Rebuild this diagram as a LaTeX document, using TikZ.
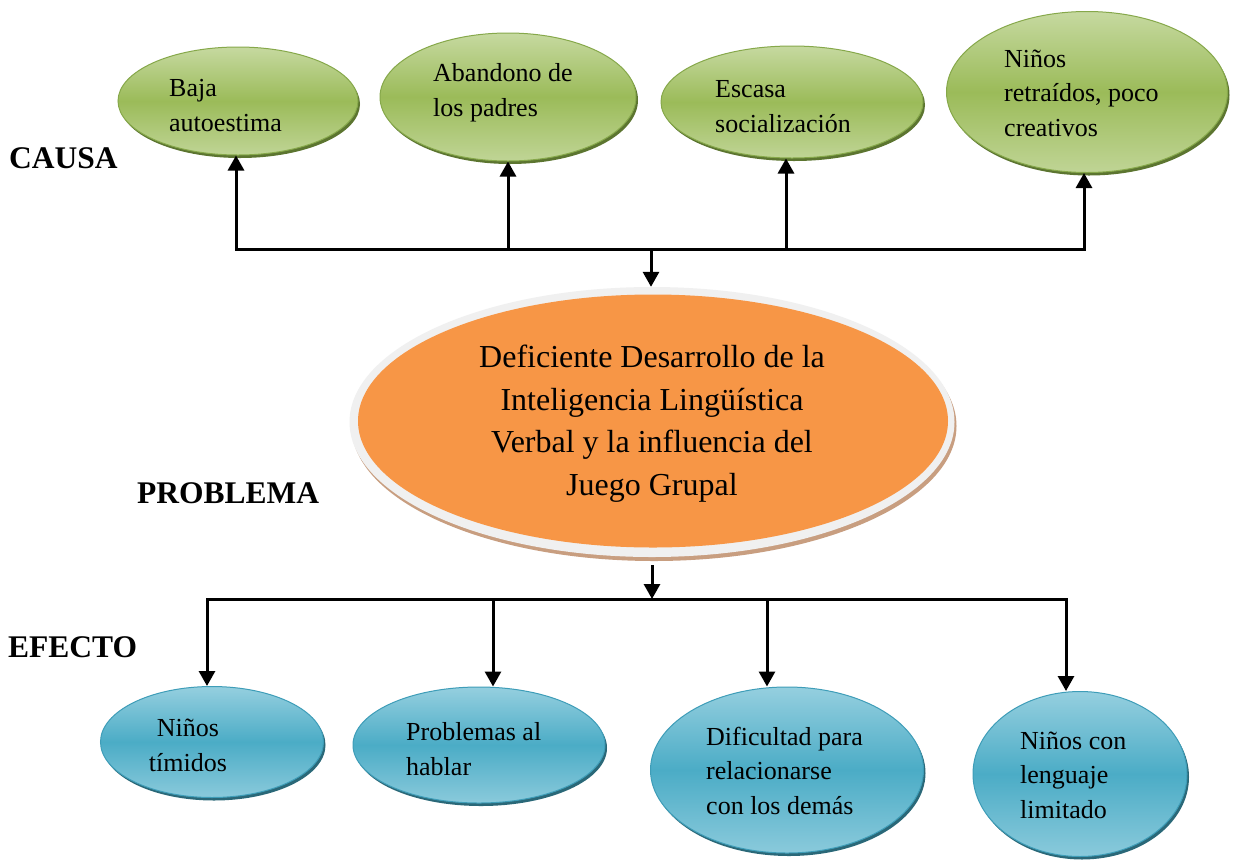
\documentclass[tikz,border=0pt]{standalone}
\usepackage{fontspec}
\setmainfont{Liberation Serif}
\usetikzlibrary{shapes.geometric,shadows,arrows.meta}
\definecolor{gtop}{HTML}{C6D9A0}
\definecolor{gmid}{HTML}{9BBB59}
\definecolor{gline}{HTML}{86A84A}
\definecolor{gshad}{HTML}{5C7530}
\definecolor{btop}{HTML}{95CFDF}
\definecolor{bmid}{HTML}{4BACC6}
\definecolor{bline}{HTML}{3E9DB8}
\definecolor{bshad}{HTML}{2A6878}
\definecolor{orfill}{HTML}{F79646}
\definecolor{ring}{HTML}{F0F0F0}
\definecolor{tan}{HTML}{C89E80}
\tikzset{
  gell/.style={ellipse, inner sep=0pt, draw=gline, line width=1pt,
    top color=gtop, bottom color=gtop!85!gmid, middle color=gmid,
    drop shadow={shadow xshift=2pt, shadow yshift=-3pt, fill=gshad, opacity=1}},
  bell/.style={ellipse, inner sep=0pt, draw=bline, line width=1pt,
    top color=btop, bottom color=btop!85!bmid, middle color=bmid,
    drop shadow={shadow xshift=2pt, shadow yshift=-3pt, fill=bshad, opacity=1}},
  txt/.style={inner sep=0pt, align=left, anchor=base west,
    font=\fontsize{26}{34.5}\selectfont},
  lbl/.style={inner sep=0pt, anchor=base west, font=\fontsize{31.5}{36}\selectfont\bfseries},
  ln/.style={line width=3pt, line cap=rect},
  arr/.style={line width=3pt, -{Triangle[length=15pt,width=16pt]}},
}
\begin{document}
\begin{tikzpicture}[x=1pt,y=-1pt]
\useasboundingbox[fill=white] (0,0) rectangle (1237,863);
% causes
\node[gell, minimum width=240pt, minimum height=108pt] (c1) at (238,101) {};
\node[gell, minimum width=256pt, minimum height=128pt] (c2) at (508,97) {};
\node[gell, minimum width=262pt, minimum height=112pt] (c3) at (792,102) {};
\node[gell, minimum width=281pt, minimum height=161pt] (c4) at (1087,92) {};
\node[txt] (c1t) at (169,131) {Baja\\autoestima};
\node[txt] (c2t) at (433,116) {Abandono de\\los padres};
\node[txt] (c3t) at (715,132) {Escasa\\socialización};
\node[txt] (c4t) at (1004,136) {Niños\\retraídos, poco\\creativos};
% problem
\node[ellipse, inner sep=0pt, fill=ring, minimum width=605pt, minimum height=270pt,
  drop shadow={shadow xshift=2pt, shadow yshift=-4pt, fill=tan, opacity=1}] (ring) at (652,422) {};
\node[ellipse, inner sep=0pt, fill=orfill, minimum width=590pt, minimum height=253pt] (prob) at (653,421) {};
\node[inner sep=0pt, align=center, anchor=base, font=\fontsize{32}{42.5}\selectfont] (probt) at (652,495)
  {Deficiente Desarrollo de la\\Inteligencia Lingüística\\Verbal y la influencia del\\Juego Grupal};
% effects
\node[bell, minimum width=223pt, minimum height=111pt] (e1) at (212,742) {};
\node[bell, minimum width=252pt, minimum height=116pt] (e2) at (479,745) {};
\node[bell, minimum width=273pt, minimum height=166pt] (e3) at (787,770) {};
\node[bell, minimum width=214pt, minimum height=165pt] (e4) at (1080,774) {};
\node[txt, align=center, anchor=base] (e1t) at (188,771) {Niños\\tímidos};
\node[txt] (e2t) at (406,775) {Problemas al\\hablar};
\node[txt] (e3t) at (706,814) {Dificultad para\\relacionarse\\con los demás};
\node[txt] (e4t) at (1020,818) {Niños con\\lenguaje\\limitado};
% labels
\node[lbl] (causa) at (9,168) {CAUSA};
\node[lbl] (problema) at (137,503) {PROBLEMA};
\node[lbl] (efecto) at (8,657) {EFECTO};
% top connectors
\coordinate (t1) at (236,249);
\coordinate (t2) at (508,249);
\coordinate (t3) at (786,249);
\coordinate (t4) at (1084,249);
\coordinate (tm) at (651,249);
\draw[ln] (t1) -- (t4);
\draw[arr] (t1) -- (t1 |- c1.south);
\draw[arr] (t2) -- (t2 |- c2.south);
\draw[arr] (t3) -- (t3 |- c3.south);
\draw[arr] (t4) -- (t4 |- c4.south);
\draw[arr] (tm) -- (tm |- ring.north);
% bottom connectors
\coordinate (b1) at (207,599);
\coordinate (b2) at (493,599);
\coordinate (b3) at (767,599);
\coordinate (b4) at (1066,599);
\coordinate (bm) at (652,599);
\coordinate (bs) at (652,565);
\draw[ln] (b1) -- (b4);
\draw[arr] (bs) -- (bm);
\draw[arr] (b1) -- (b1 |- e1.north);
\draw[arr] (b2) -- (b2 |- e2.north);
\draw[arr] (b3) -- (b3 |- e3.north);
\draw[arr] (b4) -- (b4 |- e4.north);
\end{tikzpicture}
\end{document}
